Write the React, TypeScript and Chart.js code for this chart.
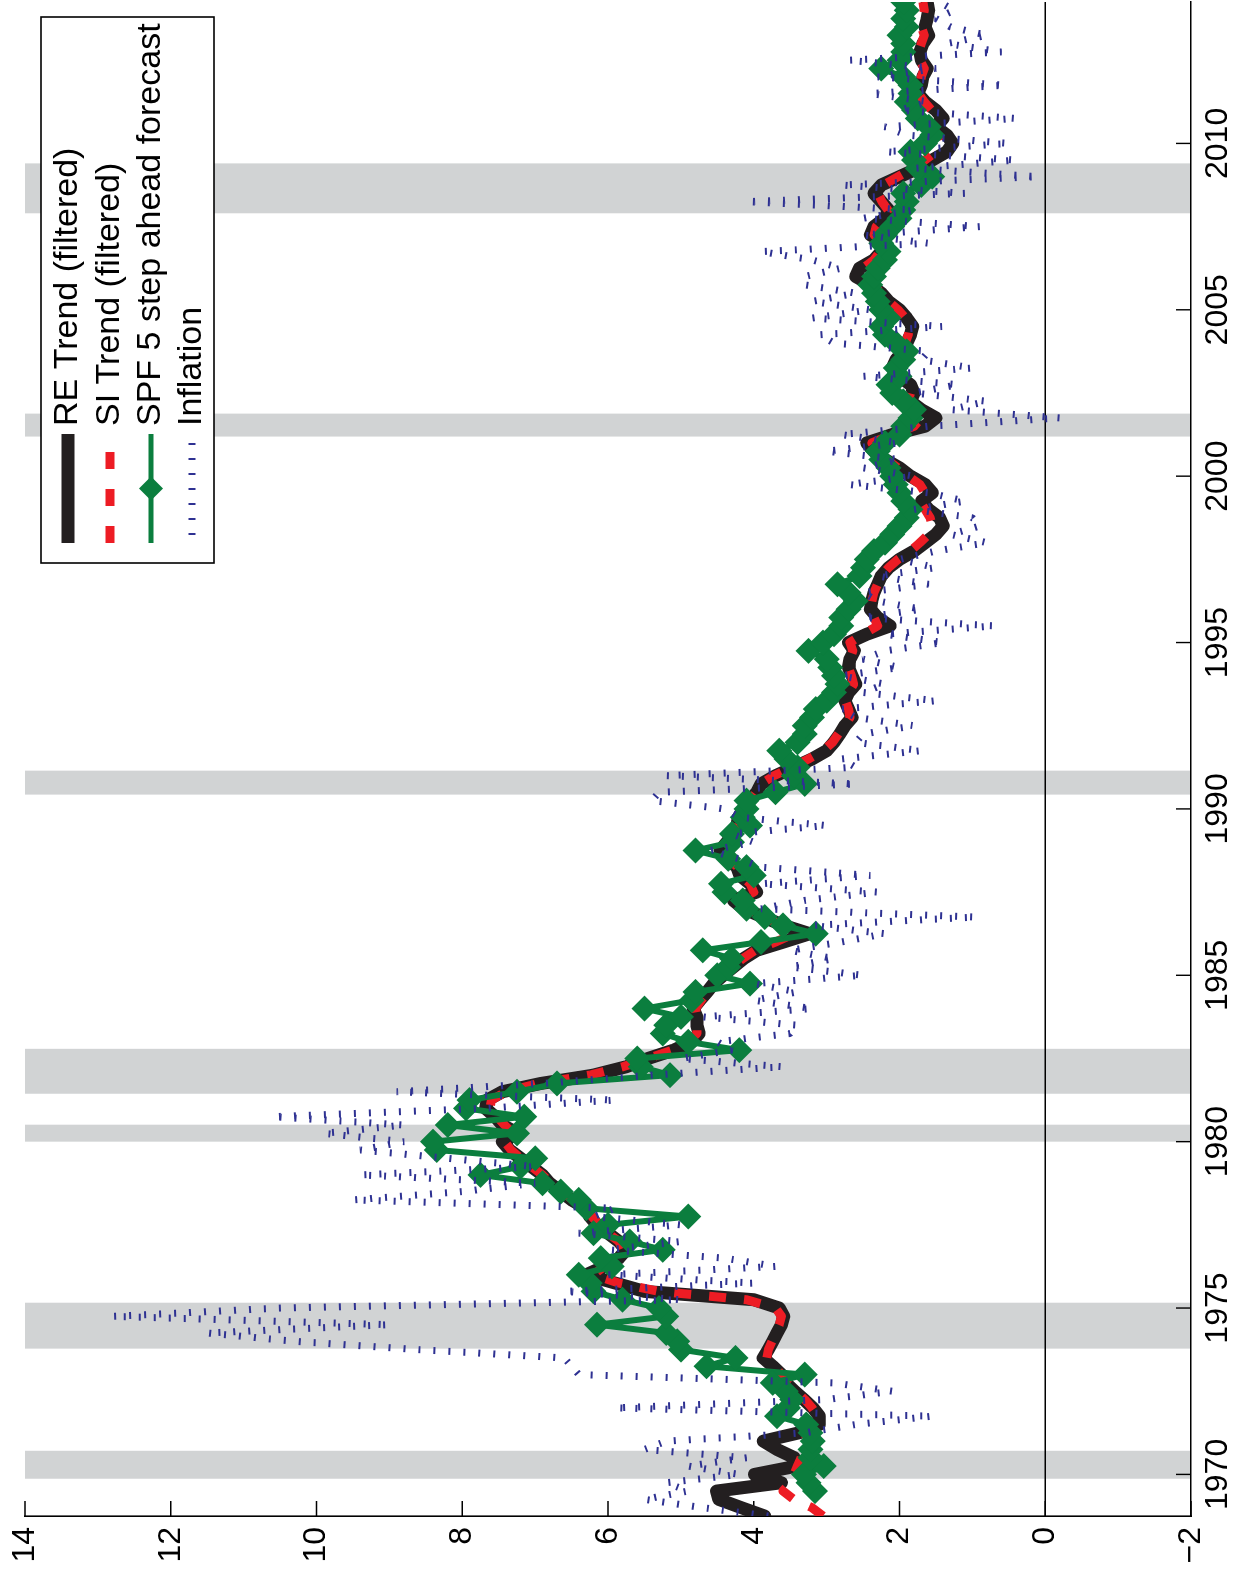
import React, { useEffect, useRef } from 'react';
import { Chart, registerables } from 'chart.js';

Chart.register(...registerables);

// ---- data (quarterly, first quarter = 1968Q4 -> 1968.75) ----
const START_YEAR = 1968.75;
const QUARTER = 0.25;
const X_MIN = 1968.75;
const X_MAX = 2014.25;
const YEAR_TICKS = [1970, 1975, 1980, 1985, 1990, 1995, 2000, 2005, 2010];
const VALUE_TICKS = [-2, 0, 2, 4, 6, 8, 10, 12, 14];

const RECESSIONS: [number, number][] = [
  [1969.87, 1970.71],
  [1973.78, 1975.16],
  [1980.0, 1980.51],
  [1981.44, 1982.79],
  [1990.43, 1991.15],
  [2001.19, 2001.88],
  [2007.9, 2009.4],
];

const RE_TREND = [
  3.85,
  4.17, 4.48, 4.51, 3.62,
  3.99, 3.41, 3.44, 3.68,
  3.87, 3.38, 3.1, 3.1,
  3.19, 3.31, 3.44, 3.56,
  3.62, 3.74, 3.87, 3.8,
  3.74, 3.68, 3.62, 3.59,
  3.65, 4.0, 5.5, 5.9,
  6.3, 6.05, 5.85, 5.75,
  5.85, 6.0, 6.15, 6.25,
  6.3, 6.5, 6.65, 6.8,
  6.9, 7.05, 7.2, 7.35,
  7.45, 7.24, 7.45, 7.55,
  7.68, 7.66, 7.45, 6.92,
  6.2, 5.75, 5.45, 5.1,
  4.85, 4.75, 4.78, 4.78,
  4.83, 4.74, 4.64, 4.55,
  4.42, 4.28, 4.14, 3.96,
  3.59, 3.23, 3.59, 3.87,
  4.14, 4.28, 3.96, 4.05,
  4.19, 4.23, 4.37, 4.46,
  4.37, 4.28, 4.23, 4.21,
  4.14, 4.05, 3.96, 3.9,
  3.7, 3.45, 3.2, 3.0,
  2.9, 2.82, 2.75, 2.65,
  2.7, 2.75, 2.7, 2.6,
  2.65, 2.7, 2.68, 2.62,
  2.7, 2.45, 2.13, 2.3,
  2.4, 2.38, 2.35, 2.3,
  2.25, 2.15, 2.0, 1.8,
  1.65, 1.5, 1.4, 1.45,
  1.6, 1.7, 1.55, 1.65,
  1.85, 2.0, 2.2, 2.35,
  2.45, 2.1, 1.65, 1.5,
  1.7, 1.85, 1.8, 1.85,
  2.0, 2.1, 2.05, 1.95,
  1.9, 1.85, 1.82, 1.9,
  2.0, 2.15, 2.25, 2.4,
  2.6, 2.55, 2.35, 2.25,
  2.2, 2.4, 2.35, 2.2,
  2.15, 2.25, 2.35, 2.25,
  2.0, 1.75, 1.55, 1.35,
  1.27, 1.35, 1.5, 1.4,
  1.5, 1.65, 1.75, 1.7,
  1.68, 1.62, 1.7, 1.72,
  1.68, 1.6, 1.65, 1.62,
  1.6, 1.62,
];

const SI_TREND = [
  3.05,
  3.2, 3.45, 3.6, 3.5,
  3.45, 3.4, 3.35, 3.35,
  3.3, 3.25, 3.15, 3.12,
  3.2, 3.3, 3.42, 3.55,
  3.62, 3.72, 3.82, 3.8,
  3.75, 3.7, 3.65, 3.62,
  3.7, 4.1, 5.3, 5.85,
  6.2, 6.05, 5.9, 5.8,
  5.85, 6.0, 6.12, 6.22,
  6.3, 6.48, 6.63, 6.78,
  6.9, 7.05, 7.2, 7.33,
  7.42, 7.3, 7.42, 7.52,
  7.62, 7.6, 7.4, 6.95,
  6.25, 5.8, 5.45, 5.12,
  4.9, 4.78, 4.78, 4.78,
  4.8, 4.72, 4.63, 4.55,
  4.43, 4.3, 4.15, 3.98,
  3.7, 3.45, 3.62, 3.85,
  4.1, 4.22, 4.0, 4.05,
  4.17, 4.22, 4.35, 4.42,
  4.36, 4.28, 4.23, 4.2,
  4.14, 4.05, 3.97, 3.9,
  3.72, 3.48, 3.25, 3.05,
  2.92, 2.84, 2.76, 2.68,
  2.7, 2.74, 2.7, 2.63,
  2.66, 2.7, 2.68, 2.64,
  2.68, 2.5, 2.3, 2.35,
  2.4, 2.38, 2.35, 2.3,
  2.25, 2.15, 2.02, 1.85,
  1.72, 1.6, 1.55, 1.58,
  1.65, 1.72, 1.65, 1.72,
  1.88, 2.02, 2.18, 2.3,
  2.38, 2.1, 1.8, 1.7,
  1.8, 1.88, 1.85, 1.88,
  2.0, 2.08, 2.03, 1.96,
  1.92, 1.88, 1.86, 1.92,
  2.02, 2.15, 2.25, 2.37,
  2.52, 2.5, 2.35, 2.27,
  2.22, 2.35, 2.32, 2.22,
  2.16, 2.24, 2.3, 2.22,
  2.02, 1.82, 1.65, 1.5,
  1.45, 1.48, 1.55, 1.5,
  1.56, 1.66, 1.74, 1.72,
  1.7, 1.66, 1.72, 1.74,
  1.7, 1.66, 1.7, 1.68,
  1.66, 1.68,
];

const SPF_FORECAST = [
  null,
  null, null, 3.16, 3.25,
  3.31, 3.04, 3.22, 3.22,
  3.19, 3.22, 3.28, 3.68,
  3.53, 3.47, 3.56, 3.74,
  3.3, 4.65, 4.25, 5.0,
  5.05, 5.2, 6.15, 5.2,
  5.3, 5.8, 6.2, 6.25,
  6.4, 5.95, 6.1, 5.25,
  5.7, 6.2, 6.0, 4.9,
  6.3, 6.4, 6.65, 6.9,
  7.75, 7.2, 7.0, 8.35,
  8.4, 7.25, 8.2, 7.15,
  7.95, 7.9, 7.25, 6.7,
  5.15, 5.55, 5.6, 4.2,
  4.9, 5.25, 5.2, 5.0,
  5.5, 4.85, 4.8, 4.05,
  4.5, 4.35, 4.3, 4.7,
  3.9, 3.15, 3.6, 3.85,
  4.1, 4.15, 4.4, 4.45,
  4.0, 4.1, 4.35, 4.8,
  4.3, 4.3, 4.05, 4.15,
  4.1, 4.1, 3.7, 3.3,
  3.45, 3.4, 3.55, 3.65,
  3.4, 3.3, 3.3, 3.2,
  3.15, 3.0, 2.9, 2.85,
  2.9, 2.95, 3.0, 3.25,
  3.05, 2.9, 2.8, 2.8,
  2.7, 2.6, 2.7, 2.85,
  2.55, 2.5, 2.45, 2.35,
  2.2, 2.1, 2.0, 1.9,
  1.85, 1.95, 2.0, 2.05,
  2.1, 2.15, 2.25, 2.3,
  2.2, 2.0, 1.95, 1.85,
  1.8, 1.95, 2.1, 2.15,
  2.0, 2.05, 1.95, 1.9,
  2.05, 2.2, 2.25, 2.15,
  2.25, 2.3, 2.35, 2.4,
  2.35, 2.3, 2.2, 2.15,
  2.25, 2.2, 2.1, 2.0,
  1.95, 1.9, 1.95, 1.7,
  1.55, 1.75, 1.8, 1.85,
  1.65, 1.55, 1.6, 1.75,
  1.8, 1.9, 1.85, 1.85,
  1.95, 2.25, 2.0, 1.95,
  1.95, 2.0, 1.9, 1.95,
  1.9, 1.95,
];

const INFLATION = [
  3.8,
  4.7, 5.5, 4.9, 5.2,
  4.2, 4.9, 4.1, 5.5,
  5.2, 3.3, 2.6, 1.55,
  5.9, 3.0, 2.1, 2.9,
  6.4, 6.5, 6.6, 8.6,
  10.3, 11.5, 9.0, 12.8,
  10.5, 5.0, 6.6, 4.0,
  6.0, 3.7, 4.4, 6.0,
  5.0, 6.4, 5.0, 6.2,
  5.9, 9.5, 8.0, 7.0,
  9.4, 7.0, 8.2, 9.4,
  8.8, 9.9, 8.8, 10.6,
  7.7, 5.9, 8.9, 6.9,
  5.4, 3.6, 5.0, 4.3,
  4.5, 3.5, 3.4, 4.7,
  3.2, 4.0, 3.4, 4.0,
  2.5, 3.5, 2.9, 3.5,
  2.8, 2.2, 3.2, 0.95,
  3.9, 3.3, 2.3, 3.9,
  2.4, 3.9, 4.2, 4.6,
  4.0, 4.3, 3.0, 4.2,
  4.4, 5.4, 5.3, 2.6,
  5.2, 2.6, 2.8, 1.7,
  2.6, 2.5, 1.8, 2.6,
  2.8, 1.5, 2.5, 2.2,
  2.8, 2.0, 2.5, 2.2,
  1.4, 2.2, 0.7, 2.5,
  1.7, 2.3, 2.5, 1.6,
  2.3, 1.5, 2.0, 1.5,
  0.8, 1.3, 0.9, 1.0,
  1.8, 1.1, 1.6, 2.7,
  1.8, 2.5, 2.0, 3.0,
  2.0, 2.8, 1.6, -0.2,
  1.3, 0.8, 1.8, 1.2,
  2.5, 1.0, 1.7, 1.6,
  2.9, 3.1, 1.4, 3.2,
  2.4, 3.2, 2.6, 3.3,
  3.3, 2.8, 3.2, 3.9,
  1.6, 2.5, 0.9, 2.5,
  1.8, 4.1, 1.1, 2.8,
  0.1, 1.8, 0.4, 2.2,
  0.5, 1.9, 2.2, 0.4,
  2.0, 1.6, 2.4, 0.55,
  2.3, 1.5, 2.7, 0.6,
  1.35, 0.8, 1.3, 1.5,
  1.25, 1.45,
];

const LABELS = [
  'RE Trend (filtered)',
  'SI Trend (filtered)',
  'SPF 5 step ahead forecast',
  'Inflation',
];

// ---- styles ----
const FONT = "'Liberation Sans', Arial, Helvetica, sans-serif";
const C_BLACK = '#231f20';
const C_RED = '#ed1c24';
const C_GREEN = '#0b7e3e';
const C_BLUE = '#2e3192';
const C_BAND = '#d1d3d4';

const toPoints = (arr: (number | null)[]) =>
  arr.map((v, i) => ({ x: START_YEAR + i * QUARTER, y: v }));

const decorPlugin = {
  id: 'decor',
  beforeDraw(chart: any) {
    const { ctx, chartArea: a, scales } = chart;
    const xs = scales.x;
    ctx.save();
    ctx.fillStyle = C_BAND;
    for (const [s, e] of RECESSIONS) {
      const x1 = xs.getPixelForValue(s);
      const x2 = xs.getPixelForValue(e);
      ctx.fillRect(x1, a.top, x2 - x1, a.bottom - a.top);
    }
    ctx.restore();
  },
  beforeDatasetsDraw(chart: any) {
    const { ctx, chartArea: a, scales } = chart;
    const xs = scales.x;
    const ys = scales.y;
    ctx.save();
    ctx.strokeStyle = '#000';
    ctx.lineWidth = 1.6;
    const y0 = ys.getPixelForValue(0);
    ctx.beginPath();
    ctx.moveTo(a.left, y0);
    ctx.lineTo(a.right, y0);
    ctx.stroke();
    ctx.lineWidth = 1.4;
    ctx.beginPath();
    for (const t of YEAR_TICKS) {
      const px = xs.getPixelForValue(t);
      ctx.moveTo(px, a.bottom);
      ctx.lineTo(px, a.bottom - 15);
    }
    for (const v of VALUE_TICKS) {
      const py = ys.getPixelForValue(v);
      ctx.moveTo(a.left, py);
      ctx.lineTo(a.left + 15, py);
    }
    ctx.stroke();
    ctx.restore();
  },
  afterDraw(chart: any) {
    const { ctx, chartArea: a } = chart;
    const right = a.right - 15;
    const left = right - 546;
    const top = a.top + 16;
    const bottom = top + 173;
    ctx.save();
    ctx.fillStyle = '#fff';
    ctx.fillRect(left, top, right - left, bottom - top);
    ctx.strokeStyle = '#000';
    ctx.lineWidth = 1.6;
    ctx.strokeRect(left, top, right - left, bottom - top);
    const rows = [27, 69, 110, 151].map((d) => top + d);
    const s0 = left + 20;
    const s1 = left + 129;
    const tx = left + 137;
    ctx.lineCap = 'butt';
    // RE
    ctx.strokeStyle = C_BLACK;
    ctx.lineWidth = 13;
    ctx.beginPath();
    ctx.moveTo(s0, rows[0]);
    ctx.lineTo(s1, rows[0]);
    ctx.stroke();
    // SI
    ctx.strokeStyle = C_RED;
    ctx.lineWidth = 9;
    ctx.setLineDash([17, 20]);
    ctx.beginPath();
    ctx.moveTo(s0, rows[1]);
    ctx.lineTo(s1, rows[1]);
    ctx.stroke();
    ctx.setLineDash([]);
    // SPF
    ctx.strokeStyle = C_GREEN;
    ctx.lineWidth = 5;
    ctx.beginPath();
    ctx.moveTo(s0, rows[2]);
    ctx.lineTo(s1, rows[2]);
    ctx.stroke();
    const cx = (s0 + s1) / 2;
    ctx.fillStyle = C_GREEN;
    ctx.beginPath();
    ctx.moveTo(cx - 12, rows[2]);
    ctx.lineTo(cx, rows[2] - 12);
    ctx.lineTo(cx + 12, rows[2]);
    ctx.lineTo(cx, rows[2] + 12);
    ctx.closePath();
    ctx.fill();
    // Inflation
    ctx.strokeStyle = C_BLUE;
    ctx.lineWidth = 7;
    ctx.setLineDash([2, 13]);
    ctx.beginPath();
    ctx.moveTo(s0 + 8, rows[3]);
    ctx.lineTo(s1, rows[3]);
    ctx.stroke();
    ctx.setLineDash([]);
    // text
    ctx.fillStyle = '#000';
    ctx.font = `34px ${FONT}`;
    ctx.textBaseline = 'middle';
    ctx.textAlign = 'left';
    LABELS.forEach((l, i) => ctx.fillText(l, tx, rows[i]));
    ctx.restore();
  },
};

export default function App() {
  const ref = useRef<HTMLCanvasElement>(null);
  useEffect(() => {
    const canvas = ref.current;
    if (!canvas) return;
    const chart = new Chart(canvas, {
      type: 'line',
      data: {
        datasets: [
          {
            label: LABELS[0],
            data: toPoints(RE_TREND),
            borderColor: C_BLACK,
            borderWidth: 13,
            pointRadius: 0,
            borderJoinStyle: 'round',
            borderCapStyle: 'round',
            order: 4,
          },
          {
            label: LABELS[1],
            data: toPoints(SI_TREND),
            borderColor: C_RED,
            borderWidth: 9,
            borderDash: [17, 18],
            pointRadius: 0,
            borderJoinStyle: 'round',
            order: 3,
          },
          {
            label: LABELS[2],
            data: toPoints(SPF_FORECAST),
            borderColor: C_GREEN,
            borderWidth: 6,
            pointStyle: 'rectRot',
            pointRadius: 13,
            pointBackgroundColor: C_GREEN,
            pointBorderColor: C_GREEN,
            pointBorderWidth: 0,
            borderJoinStyle: 'round',
            order: 2,
          },
          {
            label: LABELS[3],
            data: toPoints(INFLATION),
            borderColor: C_BLUE,
            borderWidth: 7,
            borderDash: [2, 13],
            pointRadius: 0,
            borderJoinStyle: 'bevel',
            order: 1,
          },
        ] as any,
      },
      options: {
        animation: false,
        responsive: false,
        maintainAspectRatio: false,
        devicePixelRatio: 1,
        events: [],
        layout: { autoPadding: false, padding: { top: 25, right: 2, left: 0, bottom: 0 } },
        plugins: {
          legend: { display: false },
          tooltip: { enabled: false },
        },
        scales: {
          x: {
            type: 'linear',
            min: X_MIN,
            max: X_MAX,
            grid: { display: false, drawTicks: false },
            border: { display: true, color: '#000', width: 1.6 },
            ticks: {
              font: { family: FONT, size: 32 },
              color: '#000',
              padding: 8,
              maxRotation: 0,
              autoSkip: false,
              callback: (v: any) => String(v),
            },
            afterBuildTicks: (s: any) => {
              s.ticks = YEAR_TICKS.map((v) => ({ value: v }));
            },
            afterFit: (s: any) => {
              s.height = 47;
              s.paddingLeft = 0;
              s.paddingRight = 0;
            },
          },
          y: {
            type: 'linear',
            min: -2,
            max: 14,
            grid: { display: false, drawTicks: false },
            border: { display: true, color: '#000', width: 1.6 },
            ticks: {
              font: { family: FONT, size: 32 },
              color: '#000',
              padding: 11,
              autoSkip: false,
              callback: (v: any) => (v < 0 ? '\u2212' + Math.abs(v) : String(v)),
            },
            afterBuildTicks: (s: any) => {
              s.ticks = VALUE_TICKS.map((v) => ({ value: v }));
            },
            afterFit: (s: any) => {
              s.width = 60;
              s.paddingTop = 0;
              s.paddingBottom = 0;
            },
          },
        },
      } as any,
      plugins: [decorPlugin],
    });
    return () => chart.destroy();
  }, []);

  return (
    <div
      style={{
        position: 'fixed',
        left: 0,
        top: 0,
        width: 1238,
        height: 1576,
        overflow: 'hidden',
        background: '#fff',
      }}
    >
      <div
        style={{
          position: 'absolute',
          left: 0,
          top: 0,
          width: 1576,
          height: 1238,
          transformOrigin: '0 0',
          transform: 'translate(0px, 1576px) rotate(-90deg)',
        }}
      >
        <canvas ref={ref} width={1576} height={1238} style={{ display: 'block', width: 1576, height: 1238 }} />
      </div>
    </div>
  );
}
